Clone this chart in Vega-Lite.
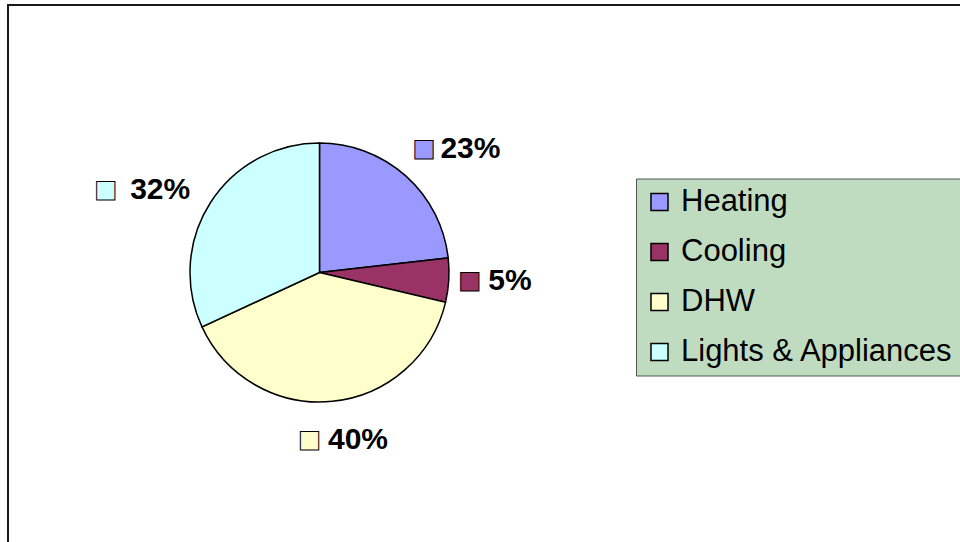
{
  "$schema": "https://vega.github.io/schema/vega-lite/v6.json",
  "width": 960,
  "height": 545,
  "autosize": {"type": "none"},
  "padding": {"left": 8, "top": 5, "right": 0, "bottom": 0},
  "background": "white",
  "view": {"stroke": "#1a1a1a", "strokeWidth": 2, "fill": "white"},
  "config": {"view": {"stroke": "#1a1a1a", "strokeWidth": 2}},
  "data": {"values": [
    {"cat": "Heating", "value": 23.2, "label": "23%", "idx": 1},
    {"cat": "Cooling", "value": 5.5, "label": "5%", "idx": 2},
    {"cat": "DHW", "value": 39.4, "label": "40%", "idx": 3},
    {"cat": "Lights & Appliances", "value": 31.9, "label": "32%", "idx": 4}
  ]},
  "encoding": {
    "theta": {"field": "value", "type": "quantitative", "stack": true},
    "order": {"field": "idx", "type": "quantitative"},
    "detail": {"field": "cat", "type": "nominal"}
  },
  "layer": [
    {
      "mark": {"type": "arc", "x": 311.5, "y": 267.5, "outerRadius": 129.5, "stroke": "black", "strokeWidth": 1.5},
      "encoding": {
        "color": {
          "field": "cat", "type": "nominal",
          "scale": {"domain": ["Heating", "Cooling", "DHW", "Lights & Appliances"], "range": ["#9999FF", "#993366", "#FFFFCC", "#CCFFFF"]},
          "legend": {
            "title": null, "orient": "none", "legendX": 628, "legendY": 173.5,
            "fillColor": "#C0DCC0", "strokeColor": "#555555", "padding": 8,
            "labelFont": "Liberation Sans", "labelFontSize": 31, "labelColor": "black", "labelOffset": 6, "labelLimit": 0,
            "rowPadding": 18, "symbolType": "square", "symbolSize": 290,
            "symbolStrokeColor": "black", "symbolStrokeWidth": 1.5, "symbolOpacity": 1
          }
        }
      }
    },
    {
      "mark": {"type": "text", "x": 311.5, "y": 267.5, "radius": 168, "align": "right", "baseline": "middle", "dx": 4, "dy": 2, "font": "DejaVu Sans", "fontSize": 24, "stroke": "black", "strokeWidth": 1},
      "encoding": {
        "color": {"field": "cat", "type": "nominal", "legend": null},
        "text": {"condition": {"test": "datum.cat === 'Heating'", "value": "■"}, "value": ""}
      }
    },
    {
      "mark": {"type": "text", "x": 311.5, "y": 267.5, "radius": 168, "align": "left", "baseline": "middle", "dx": 9, "dy": 2, "font": "Liberation Sans", "fontWeight": "bold", "fontSize": 30, "fill": "black"},
      "encoding": {
        "text": {"condition": {"test": "datum.cat === 'Heating'", "field": "label"}, "value": ""}
      }
    },
    {
      "mark": {"type": "text", "x": 311.5, "y": 267.5, "radius": 168, "align": "right", "baseline": "middle", "dx": -6, "dy": -2, "font": "DejaVu Sans", "fontSize": 24, "stroke": "black", "strokeWidth": 1},
      "encoding": {
        "color": {"field": "cat", "type": "nominal", "legend": null},
        "text": {"condition": {"test": "datum.cat === 'Cooling'", "value": "■"}, "value": ""}
      }
    },
    {
      "mark": {"type": "text", "x": 311.5, "y": 267.5, "radius": 168, "align": "left", "baseline": "middle", "dx": 1, "dy": -2, "font": "Liberation Sans", "fontWeight": "bold", "fontSize": 30, "fill": "black"},
      "encoding": {
        "text": {"condition": {"test": "datum.cat === 'Cooling'", "field": "label"}, "value": ""}
      }
    },
    {
      "mark": {"type": "text", "x": 311.5, "y": 267.5, "radius": 164, "align": "right", "baseline": "middle", "dx": -15, "dy": 4, "font": "DejaVu Sans", "fontSize": 24, "stroke": "black", "strokeWidth": 1},
      "encoding": {
        "color": {"field": "cat", "type": "nominal", "legend": null},
        "text": {"condition": {"test": "datum.cat === 'DHW'", "value": "■"}, "value": ""}
      }
    },
    {
      "mark": {"type": "text", "x": 311.5, "y": 267.5, "radius": 164, "align": "left", "baseline": "middle", "dx": -8, "dy": 4, "font": "Liberation Sans", "fontWeight": "bold", "fontSize": 30, "fill": "black"},
      "encoding": {
        "text": {"condition": {"test": "datum.cat === 'DHW'", "field": "label"}, "value": ""}
      }
    },
    {
      "mark": {"type": "text", "x": 311.5, "y": 267.5, "radius": 157, "align": "right", "baseline": "middle", "dx": -70, "dy": 2, "font": "DejaVu Sans", "fontSize": 24, "stroke": "black", "strokeWidth": 1},
      "encoding": {
        "color": {"field": "cat", "type": "nominal", "legend": null},
        "text": {"condition": {"test": "datum.cat === 'Lights & Appliances'", "value": "■"}, "value": ""}
      }
    },
    {
      "mark": {"type": "text", "x": 311.5, "y": 267.5, "radius": 157, "align": "right", "baseline": "middle", "dx": 3, "dy": 2, "font": "Liberation Sans", "fontWeight": "bold", "fontSize": 30, "fill": "black"},
      "encoding": {
        "text": {"condition": {"test": "datum.cat === 'Lights & Appliances'", "field": "label"}, "value": ""}
      }
    }
  ]
}
